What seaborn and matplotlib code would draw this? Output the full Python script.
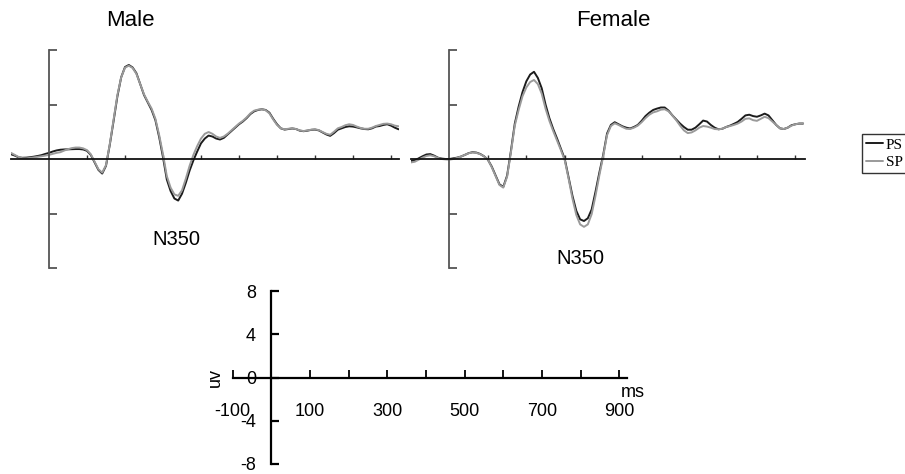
import numpy as np
import pandas as pd
import seaborn as sns
import matplotlib.pyplot as plt

# 数据：时间（ms，每 10 ms 一个点）与各条件的平均波幅（uV）
time_ms = list(range(-100, 921, 10))

male_ps = [0.35, 0.25, 0.12, 0.09, 0.1, 0.13, 0.17, 0.22, 0.28, 0.37,
           0.45, 0.55, 0.63, 0.68, 0.7, 0.71, 0.72, 0.73, 0.73, 0.7,
           0.6, 0.3, -0.25, -0.8, -1.07, -0.5, 1.05, 2.8, 4.6, 6.0,
           6.75, 6.9, 6.72, 6.3, 5.5, 4.7, 4.15, 3.6, 2.85, 1.6,
           0.13, -1.5, -2.35, -2.9, -3.05, -2.55, -1.75, -0.85, -0.1, 0.55,
           1.15, 1.5, 1.72, 1.65, 1.5, 1.43, 1.55, 1.8, 2.05, 2.3,
           2.55, 2.75, 3.0, 3.3, 3.5, 3.6, 3.65, 3.6, 3.4, 2.95,
           2.55, 2.25, 2.16, 2.2, 2.24, 2.2, 2.08, 2.04, 2.08, 2.14,
           2.16, 2.1, 1.95, 1.8, 1.7, 1.9, 2.15, 2.25, 2.35, 2.4,
           2.38, 2.32, 2.25, 2.2, 2.18, 2.25, 2.38, 2.42, 2.5, 2.55,
           2.45, 2.3, 2.18]
male_sp = [0.45, 0.3, 0.15, 0.06, 0.05, 0.08, 0.12, 0.16, 0.2, 0.25,
           0.3, 0.38, 0.45, 0.5, 0.62, 0.72, 0.8, 0.84, 0.84, 0.78,
           0.65, 0.35, -0.2, -0.75, -1.0, -0.45, 1.1, 2.9, 4.7, 6.0,
           6.7, 6.85, 6.68, 6.25, 5.5, 4.75, 4.2, 3.7, 2.95, 1.75,
           0.35, -1.25, -2.1, -2.6, -2.7, -2.3, -1.45, -0.5, 0.3, 0.95,
           1.5, 1.85, 1.98, 1.85, 1.65, 1.55, 1.65, 1.85, 2.1, 2.35,
           2.6, 2.8, 3.05, 3.35, 3.55, 3.62, 3.65, 3.58, 3.35, 2.9,
           2.5, 2.25, 2.18, 2.22, 2.25, 2.2, 2.1, 2.05, 2.1, 2.15,
           2.18, 2.12, 1.98, 1.85, 1.78, 2.0, 2.25, 2.35, 2.48, 2.55,
           2.5, 2.38, 2.28, 2.22, 2.22, 2.3, 2.42, 2.5, 2.58, 2.6,
           2.55, 2.45, 2.4]
female_ps = [-0.15, -0.1, 0.05, 0.2, 0.33, 0.36, 0.25, 0.1, 0.03, 0.0,
             0.0, 0.05, 0.1, 0.18, 0.3, 0.43, 0.5, 0.47, 0.37, 0.2,
             -0.05, -0.55, -1.2, -1.85, -2.05, -1.22, 0.6, 2.6, 3.84, 4.9,
             5.7, 6.2, 6.4, 5.95, 5.2, 4.0, 3.0, 2.2, 1.5, 0.75,
             0.0, -1.35, -2.7, -3.8, -4.43, -4.55, -4.35, -3.7, -2.4, -1.0,
             0.3, 1.87, 2.5, 2.7, 2.55, 2.4, 2.3, 2.24, 2.35, 2.5,
             2.8, 3.15, 3.4, 3.6, 3.7, 3.78, 3.78, 3.55, 3.2, 2.9,
             2.6, 2.35, 2.15, 2.15, 2.3, 2.55, 2.82, 2.75, 2.5, 2.3,
             2.18, 2.22, 2.35, 2.45, 2.58, 2.72, 2.95, 3.2, 3.25, 3.15,
             3.1, 3.2, 3.33, 3.2, 2.85, 2.5, 2.25, 2.2, 2.3, 2.48,
             2.55, 2.6, 2.6]
female_sp = [-0.25, -0.2, -0.05, 0.1, 0.22, 0.27, 0.2, 0.08, 0.0, -0.03,
             -0.05, 0.0, 0.08, 0.18, 0.3, 0.42, 0.48, 0.45, 0.35, 0.2,
             -0.05, -0.6, -1.25, -1.9, -2.1, -1.3, 0.5, 2.45, 3.6, 4.6,
             5.25, 5.65, 5.8, 5.5, 4.8, 3.7, 2.8, 2.05, 1.35, 0.65,
             -0.1, -1.45, -2.9, -4.1, -4.8, -4.98, -4.8, -4.05, -2.7, -1.2,
             0.2, 1.75, 2.42, 2.62, 2.5, 2.35, 2.22, 2.2, 2.3, 2.45,
             2.7, 3.0, 3.25, 3.42, 3.5, 3.62, 3.65, 3.5, 3.2, 2.85,
             2.45, 2.1, 1.9, 1.95, 2.1, 2.3, 2.42, 2.38, 2.3, 2.2,
             2.18, 2.22, 2.35, 2.42, 2.5, 2.6, 2.75, 2.95, 2.98, 2.85,
             2.8, 2.95, 3.1, 3.0, 2.75, 2.5, 2.25, 2.2, 2.3, 2.45,
             2.55, 2.6, 2.62]

conditions = ['PS', 'SP']
cond_colors = {'PS': '#1c1c1c', 'SP': '#9a9a9a'}

scale_yticks = [-8, -4, 0, 4, 8]
scale_xticks = list(range(-100, 901, 100))
scale_xlabels = ['-100', '', '100', '', '300', '', '500', '', '700', '', '900']


def make_df(ps, sp):
    return pd.concat([
        pd.DataFrame({'time': time_ms, 'uv': ps, 'cond': 'PS'}),
        pd.DataFrame({'time': time_ms, 'uv': sp, 'cond': 'SP'}),
    ], ignore_index=True)


sns.set_style('white')
plt.rcParams['font.family'] = ['Liberation Sans', 'DejaVu Sans']
plt.rcParams['text.color'] = 'black'
plt.rcParams['xtick.color'] = 'black'
plt.rcParams['ytick.color'] = 'black'

W, H = 905, 474
fig = plt.figure(figsize=(W / 100, H / 100), dpi=100)


def px_axes(left, top, right, bottom):
    return fig.add_axes([left / W, 1 - bottom / H, (right - left) / W, (bottom - top) / H])


def erp_panel(ax, df, xmax):
    sns.lineplot(data=df, x='time', y='uv', hue='cond', palette=cond_colors,
                 hue_order=conditions, ax=ax, legend=False, linewidth=1.4)
    ax.set_xlim(-100, xmax)
    ax.set_ylim(-8, 8)
    ax.patch.set_alpha(0)
    for s in ['top', 'right']:
        ax.spines[s].set_visible(False)
    ax.spines['left'].set_position(('data', 0))
    ax.spines['left'].set_color('#555555')
    ax.spines['left'].set_linewidth(1.3)
    ax.spines['bottom'].set_position(('data', 0))
    ax.spines['bottom'].set_color('#111111')
    ax.spines['bottom'].set_linewidth(1.3)
    ax.set_yticks([-8, -4, 4, 8])
    ax.set_xticks(range(100, 901, 100))
    ax.tick_params(axis='y', direction='in', length=6, width=1.3, color='#555555',
                   labelleft=False, left=True)
    ax.tick_params(axis='x', direction='in', length=3, width=1, color='#333333',
                   labelbottom=False, bottom=True)
    ax.set_xlabel('')
    ax.set_ylabel('')


ax_m = px_axes(11, 50, 398.6, 268)
erp_panel(ax_m, make_df(male_ps, male_sp), 920)
ax_m.text(335, -5.9, 'N350', ha='center', va='center', fontsize=14.5)

ax_f = px_axes(411, 50, 805, 268)
erp_panel(ax_f, make_df(female_ps, female_sp), 925)
ax_f.text(340, -7.3, 'N350', ha='center', va='center', fontsize=14.5)

fig.text(130 / W, 1 - 21 / H, 'Male', ha='center', va='center', fontsize=16)
fig.text(613 / W, 1 - 21 / H, 'Female', ha='center', va='center', fontsize=16)

# 比例尺坐标轴
ax_s = px_axes(232.5, 291, 627, 464)
ax_s.set_xlim(-100, 920)
ax_s.set_ylim(-8, 8)
ax_s.patch.set_alpha(0)
for s in ['top', 'right']:
    ax_s.spines[s].set_visible(False)
ax_s.spines['left'].set_position(('data', 0))
ax_s.spines['bottom'].set_position(('data', 0))
for s in ['left', 'bottom']:
    ax_s.spines[s].set_color('black')
    ax_s.spines[s].set_linewidth(1.6)
ax_s.set_yticks(scale_yticks)
ax_s.set_yticklabels([str(v) for v in scale_yticks])
ax_s.set_xticks(scale_xticks)
ax_s.set_xticklabels(scale_xlabels)
ax_s.tick_params(axis='y', direction='in', length=6, width=1.6, pad=11, labelsize=13, left=True)
ax_s.tick_params(axis='x', direction='in', length=6, width=1.3, pad=18, labelsize=13, bottom=True)
ax_s.text(-145, 0, 'uv', rotation=90, ha='center', va='center', fontsize=13)
ax_s.text(935, -1.4, 'ms', ha='center', va='center', fontsize=13)

# 图例
handles = ax_m.get_lines()[:2]
leg = fig.legend(handles, conditions, loc='upper left',
                 bbox_to_anchor=(862 / W, 1 - 134 / H), frameon=True, fancybox=False,
                 prop={'family': 'Liberation Serif', 'size': 11},
                 handlelength=1.1, handletextpad=0.2, borderpad=0.25, labelspacing=0.25,
                 borderaxespad=0)
leg.get_frame().set_edgecolor('black')
leg.get_frame().set_linewidth(1.0)

plt.savefig('out.png', dpi=100)
